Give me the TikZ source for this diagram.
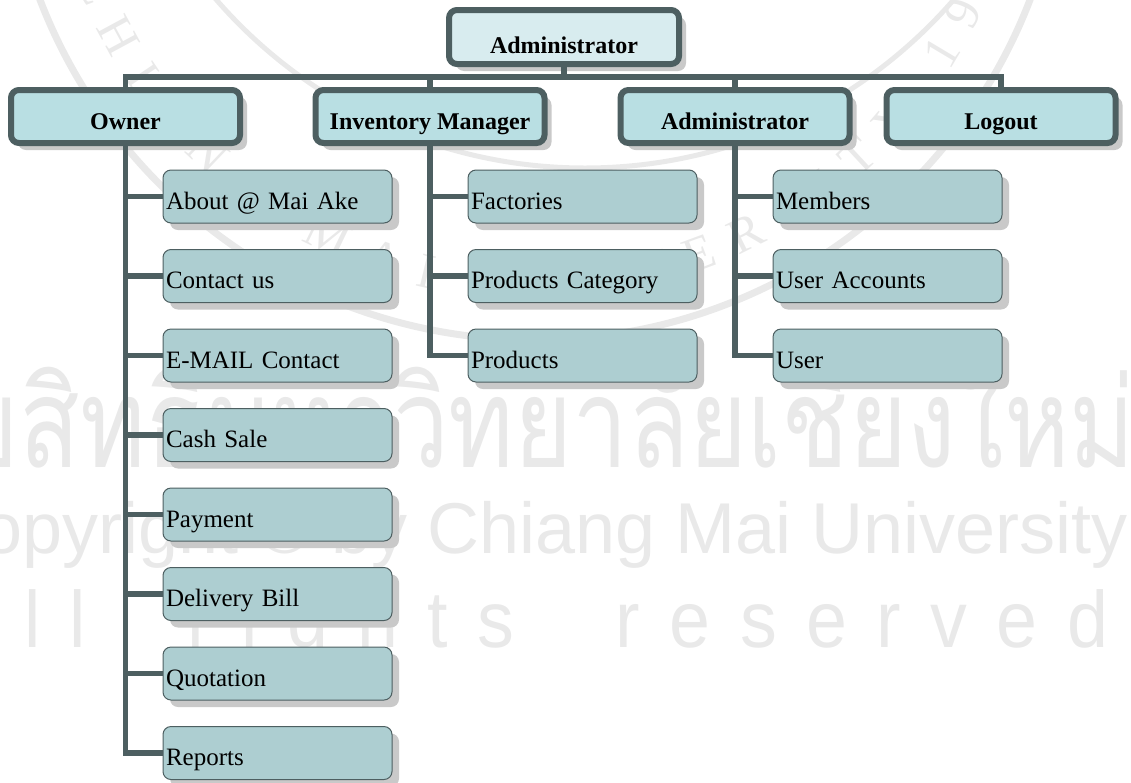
\documentclass[tikz,border=0pt]{standalone}
\usepackage{fontspec}
\setmainfont{Liberation Serif}
\newfontfamily\thaifont[Script=Thai]{Loma}
\setsansfont{Liberation Sans}
\usetikzlibrary{shadows,decorations.text}
\definecolor{linegrey}{HTML}{4D5F61}
\definecolor{rootfill}{HTML}{D8ECEF}
\definecolor{menufill}{HTML}{B9DFE3}
\definecolor{itemfill}{HTML}{ADCED1}
\definecolor{shadowgrey}{HTML}{C9C9C9}
\definecolor{markgrey}{HTML}{E9E9E9}
\tikzset{
  menubox/.style={draw=linegrey, line width=6pt, rounded corners=8pt, fill=menufill, minimum width=229pt, minimum height=53pt, inner sep=0pt, text height=39pt, text depth=14pt, font=\fontsize{24}{28}\selectfont\bfseries, drop shadow={shadow xshift=7pt, shadow yshift=-7pt, fill=shadowgrey, opacity=1}},
  itembox/.style={draw=linegrey, line width=1pt, rounded corners=8pt, fill=itemfill, minimum width=229pt, minimum height=53pt, inner xsep=3pt, inner ysep=0pt, text width=223pt, align=left, text height=39pt, text depth=14pt, font=\fontsize{25}{30}\selectfont, drop shadow={shadow xshift=7pt, shadow yshift=-7pt, fill=shadowgrey, opacity=1}},
  conn/.style={draw=linegrey, line width=5.5pt},
  markline/.style={text=markgrey, inner sep=0pt, anchor=base}
}
\begin{document}
\begin{tikzpicture}[x=1pt, y=-1pt]
    \useasboundingbox (0,0) rectangle (1131,782);
    \begin{scope}
        \clip (0,0) rectangle (1131,782);
        % seal
        \draw[markgrey, line width=7pt] (535,-190) circle (530);
        \draw[markgrey, line width=5pt] (585,-320) circle (488);
        \path[decorate, decoration={text along path, text align={fit to path}, text={|\fontsize{50}{50}\selectfont\color{markgrey}|CHIANG MAI UNIVERSITY 19}}] (535,-190) ++(160:490) arc[start angle=160, end angle=24, radius=490];
        \node[markline, font=\thaifont\fontsize{125}{125}\selectfont, xscale=0.795] (thailine) at (513,467) {ลิขสิทธิ์มหาวิทยาลัยเชียงใหม่};
        \node[markline, font=\sffamily\fontsize{72}{72}\selectfont] (copyline) at (529,553) {Copyright © by Chiang Mai University};
        \node[markline, font=\sffamily\fontsize{80}{80}\selectfont, xscale=0.92] (rightsline) at (527,647) {\addfontfeature{LetterSpace=40}All\hspace{110pt}rights\hspace{110pt}reserved};
    \end{scope}

    \node [menubox, fill=rootfill, minimum width=230pt, minimum height=54pt, text height=43pt, text depth=11pt] (root) at (564,37) {Administrator};

    \node [menubox] (owner) at (125.5,116.5) {Owner};
    \node [menubox, right of=owner, node distance=304.5pt] (inventory) {Inventory Manager};
    \node [menubox, right of=inventory, node distance=305pt] (admin) {Administrator};
    \node [menubox, right of=admin, node distance=266pt] (logout) {Logout};

    \node [itembox] (about) at (277.5,196.5) {About @ Mai Ake};
    \node [itembox, below of=about, node distance=79.5pt] (contact) {Contact us};
    \node [itembox, below of=contact, node distance=79.5pt] (email) {E-MAIL Contact};
    \node [itembox, below of=email, node distance=79.5pt] (cash) {Cash Sale};
    \node [itembox, below of=cash, node distance=79.5pt] (payment) {Payment};
    \node [itembox, below of=payment, node distance=79.5pt] (delivery) {Delivery Bill};
    \node [itembox, below of=delivery, node distance=79.5pt] (quotation) {Quotation};
    \node [itembox, below of=quotation, node distance=79.5pt] (reports) {Reports};

    \node [itembox, right of=about, node distance=305pt] (factories) {Factories};
    \node [itembox, below of=factories, node distance=79.5pt] (category) {Products Category};
    \node [itembox, below of=category, node distance=79.5pt] (products) {Products};

    \node [itembox, right of=factories, node distance=305pt] (members) {Members};
    \node [itembox, below of=members, node distance=79.5pt] (accounts) {User Accounts};
    \node [itembox, below of=accounts, node distance=79.5pt] (user) {User};

    \draw[conn] (root.south) -- ++(0,10) -| (owner.north);
    \draw[conn] (root.south) -- ++(0,10) -| (inventory.north);
    \draw[conn] (root.south) -- ++(0,10) -| (admin.north);
    \draw[conn] (root.south) -- ++(0,10) -| (logout.north);

    \draw[conn] (owner.south) |- (about.west);
    \draw[conn] (owner.south) |- (contact.west);
    \draw[conn] (owner.south) |- (email.west);
    \draw[conn] (owner.south) |- (cash.west);
    \draw[conn] (owner.south) |- (payment.west);
    \draw[conn] (owner.south) |- (delivery.west);
    \draw[conn] (owner.south) |- (quotation.west);
    \draw[conn] (owner.south) |- (reports.west);

    \draw[conn] (inventory.south) |- (factories.west);
    \draw[conn] (inventory.south) |- (category.west);
    \draw[conn] (inventory.south) |- (products.west);

    \draw[conn] (admin.south) |- (members.west);
    \draw[conn] (admin.south) |- (accounts.west);
    \draw[conn] (admin.south) |- (user.west);
\end{tikzpicture}
\end{document}
